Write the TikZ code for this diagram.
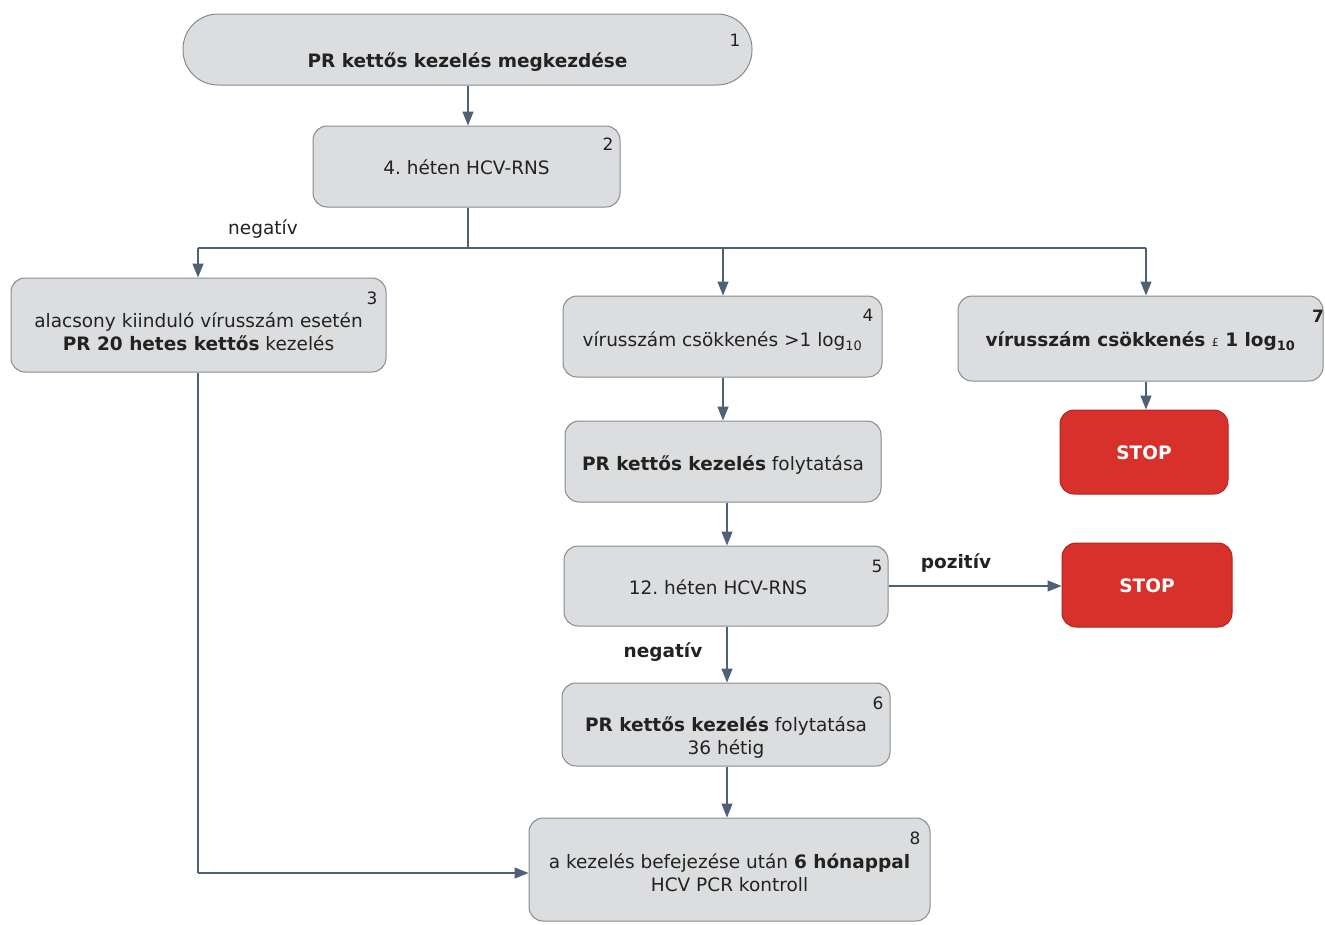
\documentclass[tikz,border=0pt]{standalone}
\usepackage{fontspec}
\setmainfont{DejaVu Sans}
\frenchspacing
\usetikzlibrary{arrows.meta,calc}
\definecolor{boxfill}{HTML}{DCDDDF}
\definecolor{boxline}{HTML}{858B92}
\definecolor{conn}{HTML}{4E6177}
\definecolor{stopred}{HTML}{D8302A}
\definecolor{txt}{HTML}{222222}
\tikzset{
  stepbox/.style={draw=boxline, line width=1pt, fill=boxfill, rounded corners=14pt,
    align=center, text=txt, font=\fontsize{18.5}{23}\selectfont, inner sep=0pt},
  stopbox/.style={draw=stopred!80!black, line width=1pt, fill=stopred, rounded corners=14pt,
    text=white, font=\bfseries\fontsize{18.5}{23}\selectfont, inner sep=0pt},
  num/.style={text=txt, font=\fontsize{17}{20}\selectfont, inner sep=0pt},
  lbl/.style={text=txt, font=\fontsize{18.5}{23}\selectfont, inner sep=0pt},
  flow/.style={draw=conn, line width=1.3pt, -{Triangle[length=14pt,width=11pt]}},
  plain/.style={draw=conn, line width=1.3pt},
}
% one line of box text with its baseline #1 below the box centre
\newcommand{\oneline}[2]{\raisebox{-#1}[0pt][0pt]{#2}}
% two centred lines, the last baseline #1 below the box centre
\newcommand{\twolines}[3]{\raisebox{-#1}[0pt][0pt]{\begin{tabular}[b]{@{}c@{}}#2\\#3\end{tabular}}}
\begin{document}
\begin{tikzpicture}[x=1pt,y=-1pt]
\useasboundingbox (0,0) rectangle (1325,924);

% boxes
\node[stepbox, rounded corners=35pt, minimum width=569pt, minimum height=71pt,
  font=\bfseries\fontsize{18.5}{23}\selectfont] (b1) at (467.5,49.5)
  {\oneline{18pt}{PR kettős kezelés megkezdése}};
\node[num] (n1) at (735,40) {1};

\node[stepbox, minimum width=307pt, minimum height=81pt] (b2) at (466.5,166.5)
  {\oneline{8pt}{4. héten HCV-RNS}};
\node[num] (n2) at (608,144) {2};

\node[stepbox, minimum width=375pt, minimum height=94pt] (b3) at (198.5,325)
  {\twolines{25.5pt}{alacsony kiinduló vírusszám esetén}{\textbf{PR 20 hetes kettős} kezelés}};
\node[num] (n3) at (372,298) {3};

\node[stepbox, minimum width=319pt, minimum height=81pt] (b4) at (722.5,336.5)
  {\oneline{10pt}{vírusszám csökkenés >1 log\textsubscript{10}}};
\node[num] (n4) at (868,315) {4};

\node[stepbox, minimum width=365pt, minimum height=85pt, font=\bfseries\fontsize{18.5}{23}\selectfont] (b7) at (1140.5,338.5)
  {\oneline{8pt}{vírusszám csökkenés \textmd{\fontsize{11}{13}\selectfont £} 1 log\textsubscript{10}}};
\node[num, font=\bfseries\fontsize{17}{20}\selectfont] (n7) at (1318,316) {7};

\node[stopbox, minimum width=168pt, minimum height=84pt] (s1) at (1144,452)
  {\oneline{7pt}{STOP}};

\node[stepbox, minimum width=316pt, minimum height=81pt] (bf) at (723,461.5)
  {\oneline{9pt}{\textbf{PR kettős kezelés} folytatása}};

\node[stepbox, minimum width=324pt, minimum height=80pt] (b5) at (726,586)
  {\oneline{8.5pt}{\hspace{-16pt}12. héten HCV-RNS}};
\node[num] (n5) at (877,566) {5};

\node[stopbox, minimum width=170pt, minimum height=84pt] (s2) at (1147,585)
  {\oneline{7pt}{STOP}};

\node[stepbox, minimum width=328pt, minimum height=83pt] (b6) at (726,724.5)
  {\twolines{30pt}{\textbf{PR kettős kezelés} folytatása}{36 hétig}};
\node[num] (n6) at (878,703) {6};

\node[stepbox, minimum width=401pt, minimum height=103pt] (b8) at (729.5,869.5)
  {\twolines{22pt}{a kezelés befejezése után \textbf{6 hónappal}}{HCV PCR kontroll}};
\node[num] (n8) at (915,838) {8};

% connectors
\coordinate (split) at (468,248);
\coordinate (left) at (198,248);
\coordinate (mid) at (723,248);
\coordinate (right) at (1146,248);
\coordinate (corner) at (198,873);

\draw[flow] (b1.south -| split) -- (b2.north -| split);
\draw[plain] (b2.south -| split) -- (split);
\draw[plain] (left) -- (right);
\draw[flow] (left) -- (left |- b3.north);
\draw[flow] (mid) -- (mid |- b4.north);
\draw[flow] (right) -- (right |- b7.north);
\draw[flow] (right |- b7.south) -- (right |- s1.north);
\draw[flow] (b4.south -| mid) -- (bf.north -| mid);
\draw[flow] (bf.south -| 727,0) -- (b5.north -| 727,0);
\draw[flow] (b5.east |- 0,586) -- (s2.west |- 0,586);
\draw[flow] (b5.south -| 727,0) -- (b6.north -| 727,0);
\draw[flow] (b6.south -| 727,0) -- (b8.north -| 727,0);
\draw[plain] (b3.south -| corner) -- (corner);
\draw[flow] (corner) -- (b8.west |- corner);

% branch labels
\node[lbl] (l1) at (263,229) {negatív};
\node[lbl, font=\bfseries\fontsize{18.5}{23}\selectfont] (l2) at (956,563) {pozitív};
\node[lbl, font=\bfseries\fontsize{18.5}{23}\selectfont] (l3) at (663,652) {negatív};
\end{tikzpicture}
\end{document}
